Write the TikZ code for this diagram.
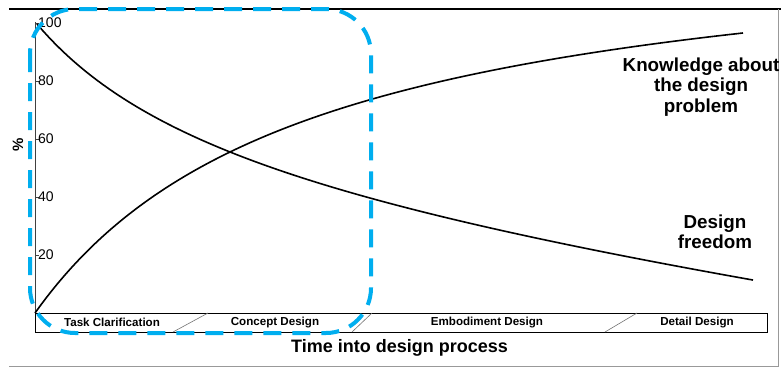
\documentclass[tikz,border=0pt]{standalone}
\usepackage{fontspec}
\setmainfont{Liberation Sans}
\usetikzlibrary{positioning}
\definecolor{boxcyan}{RGB}{0,174,239}

\begin{document}
\begin{tikzpicture}[
    x=1pt, y=-1pt,
    curve/.style={line width=1.6pt, black, samples=120},
    axis/.style={line width=1pt, black!75},
    phase/.style={font=\fontsize{11.6}{13}\selectfont\bfseries, inner sep=0pt},
    ticklabel/.style={font=\fontsize{14}{16}\selectfont, anchor=west, inner sep=0pt},
    curvetext/.style={font=\fontsize{18.8}{20.5}\selectfont\bfseries, align=center, inner sep=0pt},
    divider/.style={black!55, line width=0.6pt},
    focus/.style={boxcyan, line width=4pt, dash pattern=on 18pt off 11pt, rounded corners=45pt}
]

% Canvas and frame
\useasboundingbox (0,0) rectangle (781,367);
\draw [line width=1.2pt] (9,9) -- (781,9);
\draw [black!40, line width=1pt] (9,366) -- (778,366) -- (778,9);

% Axis with ticks
\draw [axis] (35,22) -- (35,332);
\foreach \v in {20,40,60,80,100} {
  \draw [axis] (35,313-2.9*\v) -- (39,313-2.9*\v);
  \node [ticklabel] at (38,313-2.9*\v) {\v};
}
\node (percent) [rotate=90, font=\fontsize{15}{17}\selectfont\bfseries] at (18,145) {\%};

% Phase bar
\node (bar) [draw, line width=0.9pt, minimum width=732pt, minimum height=19pt, inner sep=0pt,
  anchor=north west] at (35,313) {};
\draw [divider] (173,332) -- (208,313);
\draw [divider] (352,332) -- (372,313);
\draw [divider] (605,332) -- (637,313);
\node (task) [phase] at (112,322.5) {Task Clarification};
\node (concept) [phase] at (275,322.5) {Concept Design};
\node (embodiment) [phase] at (487,322.5) {Embodiment Design};
\node (detail) [phase] at (697,322.5) {Detail Design};
\node (time) [below=6pt of bar, font=\fontsize{18}{20}\selectfont\bfseries, inner sep=0pt,
  xshift=-2pt] {Time into design process};

% Curves
\draw [curve] plot [domain=0:716] ({37+\x}, {24+210.3*(\x/(\x+200))+0.128*\x});
\draw [curve] plot [domain=0:708] ({35+\x}, {313-389.4*(\x/(\x+276.6))});

% Curve labels
\node (knowledge) [curvetext] at (701,87) {Knowledge about\\the design\\problem};
\node (freedom) [curvetext] at (715,232) {Design\\freedom};

% Highlighted early phases
\draw [focus] (30,9) rectangle (371,333);

\end{tikzpicture}
\end{document}
